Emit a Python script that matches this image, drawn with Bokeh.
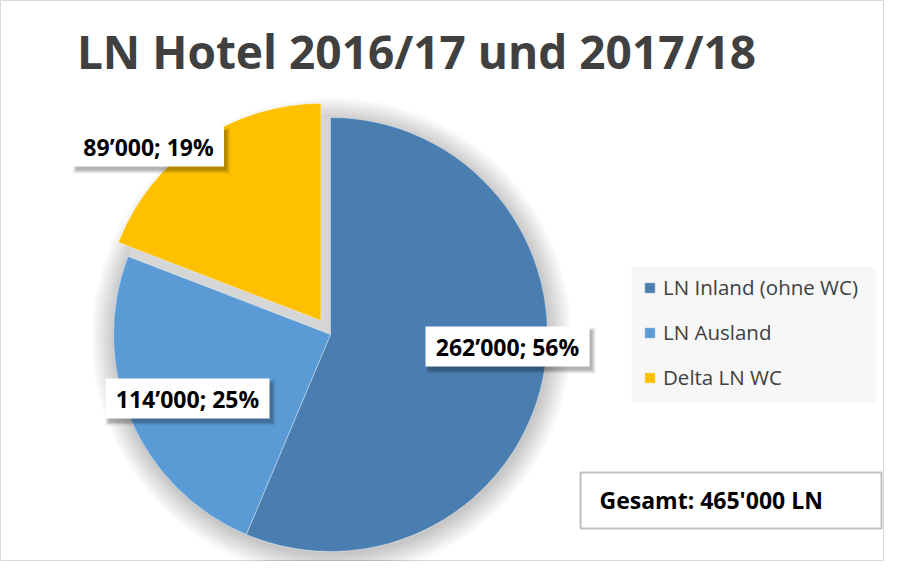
import math
from bokeh.plotting import figure
from bokeh.models import Range1d, Legend, LegendItem, ColumnDataSource, Label
from bokeh.embed import file_html
from bokeh.resources import INLINE
from bokeh.core.properties import value

# ---- data ----
categories = ["LN Inland (ohne WC)", "LN Ausland", "Delta LN WC"]
values = [262000, 114000, 89000]
exploded = [False, False, True]
colors = ["#4A7EB1", "#5B9BD5", "#FFC000"]
title_text = "LN Hotel 2016/17 und 2017/18"
total_text = "Gesamt: 465'000 LN"

# ---- layout (pixels, frame coords: origin bottom-left) ----
W, H = 884, 561
cx, cy, R = 330, 227, 217
explode_px = 17
label_pos = [(507, 215), (187, 163), (148, 415)]
label_box_w = [164, 164, 151]
label_box_h = 40
FONT = "Open Sans"

p = figure(width=W, height=H, x_range=Range1d(0, W), y_range=Range1d(0, H),
           output_backend="svg", toolbar_location=None, min_border=0,
           x_axis_location=None, y_axis_location=None)
p.grid.visible = False
p.outline_line_color = "#D9D9D9"
p.outline_line_width = 1
p.background_fill_color = "white"
p.border_fill_color = "white"

total = sum(values)
fracs = [v / total for v in values]
starts, ends, xs, ys = [], [], [], []
cum = 0.0
for f, ex in zip(fracs, exploded):
    a0 = math.pi / 2 - 2 * math.pi * (cum + f)
    a1 = math.pi / 2 - 2 * math.pi * cum
    cum += f
    mid = (a0 + a1) / 2
    off = explode_px if ex else 0
    starts.append(a0)
    ends.append(a1)
    xs.append(cx + off * math.cos(mid))
    ys.append(cy + off * math.sin(mid))

# soft shadow / glow behind the pie
for k in range(14):
    p.circle(x=[cx + 1], y=[cy - 3], radius=R + 1 + 1.7 * k, radius_units="data",
             fill_color="black", fill_alpha=0.014, line_color=None)
p.circle(x=[cx], y=[cy], radius=R, fill_color="#D6D6D6", line_color=None)

src = ColumnDataSource(dict(x=xs, y=ys, start=starts, end=ends, color=colors, cat=categories))
wr = p.wedge(x="x", y="y", radius=R, start_angle="start", end_angle="end",
             direction="anticlock", fill_color="color", line_color="white",
             line_alpha=0.35, line_width=1, source=src)

# data labels
lab_text = []
for v in values:
    s = f"{v:,}".replace(",", "\u2019")
    lab_text.append(f"{s}; {round(100 * v / total)}%")
lsrc = ColumnDataSource(dict(
    x=[q[0] for q in label_pos], y=[q[1] for q in label_pos],
    w=label_box_w, h=[label_box_h] * 3, text=lab_text))
for k, a in enumerate([0.08, 0.10, 0.14]):
    ssrc = ColumnDataSource(dict(
        sx=[q[0] + 3 for q in label_pos], sy=[q[1] - 4 for q in label_pos],
        sw=[w + 6 - 3 * k for w in label_box_w], sh=[label_box_h + 6 - 3 * k] * 3))
    p.rect(x="sx", y="sy", width="sw", height="sh", source=ssrc,
           fill_color="black", fill_alpha=a, line_color=None)
p.rect(x="x", y="y", width="w", height="h", source=lsrc,
       fill_color="white", line_color=None)
p.text(x="x", y="y", text="text", source=lsrc, text_font=value(FONT),
       text_font_style="bold", text_font_size="23px", text_color="black",
       text_align="center", text_baseline="middle")

# title
p.add_layout(Label(x=416, y=511, text=title_text, text_font=FONT, text_font_style="bold",
                   text_font_size="46px", text_color="#404040",
                   text_align="center", text_baseline="middle"))

# total box
p.rect(x=[730.5], y=[61], width=[301], height=[56], fill_color="white",
       line_color="#BFBFBF", line_width=2)
p.add_layout(Label(x=599, y=62, text=total_text, text_font=FONT, text_font_style="bold",
                   text_font_size="23px", text_color="black",
                   text_align="left", text_baseline="middle"))

# legend background panel
p.rect(x=[753], y=[227], width=[244], height=[136], fill_color="#F7F7F7", line_color=None)

# legend
items = [LegendItem(label=categories[i], renderers=[wr], index=i) for i in range(3)]
legend = Legend(items=items, location=(643, 170), background_fill_alpha=0.0,
                border_line_color=None,
                label_text_font=FONT, label_text_font_size="20.5px", label_text_color="#404040",
                glyph_width=13, glyph_height=13, label_standoff=7, padding=12,
                spacing=17, margin=0, label_height=20)
p.add_layout(legend, "center")

open("out.html", "w").write(file_html(p, INLINE))
